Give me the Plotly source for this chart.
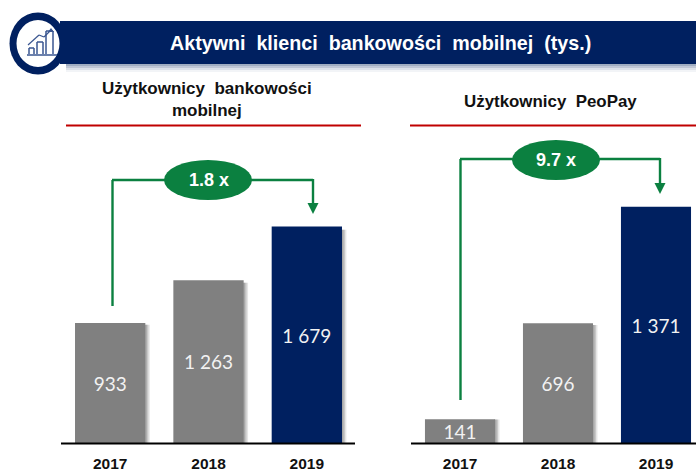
import plotly.graph_objects as go

W, H = 696, 472
years = ["2017", "2018", "2019"]
mobile_values = [933, 1263, 1679]
mobile_labels = ["933", "1 263", "1 679"]
peopay_values = [141, 696, 1371]
peopay_labels = ["141", "696", "1 371"]
bar_colors = ["#808080", "#808080", "#002060"]
title = "Aktywni\u00a0 klienci\u00a0 bankowości\u00a0 mobilnej\u00a0 (tys.)"
left_title = "Użytkownicy\u00a0 bankowości<br>mobilnej"
right_title = "Użytkownicy\u00a0 PeoPay"
left_mult = "1.8 x"
right_mult = "9.7 x"

NAVY, GREEN, RED = "#002060", "#0B8040", "#C00000"
TOP, BASE = 120, 443.5


def px(x):
    return x / W


def py(y):
    return 1 - y / H


fig = go.Figure()
for ax, vals, labs in (("", mobile_values, mobile_labels), ("2", peopay_values, peopay_labels)):
    fig.add_trace(go.Bar(
        x=years, y=vals, xaxis="x" + ax, yaxis="y" + ax, width=0.715,
        marker=dict(color=bar_colors, line=dict(width=0)),
        text=labs, textposition="inside", insidetextanchor="middle", textangle=0,
        constraintext="none", cliponaxis=False,
        textfont=dict(family="Lato, sans-serif", size=19, color="#F2F2F2"),
        hoverinfo="skip", showlegend=False))

shapes = []


def rect(x0, y0, x1, y1, color, layer="above", op=1):
    shapes.append(dict(type="rect", xref="paper", yref="paper", x0=px(x0), x1=px(x1), y0=py(y0), y1=py(y1),
                       fillcolor=color, line=dict(width=0), layer=layer, opacity=op))


def line(x0, y0, x1, y1, color, w=2, layer="above"):
    shapes.append(dict(type="line", xref="paper", yref="paper", x0=px(x0), x1=px(x1), y0=py(y0), y1=py(y1),
                       line=dict(color=color, width=w), layer=layer))


def ellipse(cx, cy, rx, ry, color, layer="above"):
    shapes.append(dict(type="circle", xref="paper", yref="paper", x0=px(cx - rx), x1=px(cx + rx),
                       y0=py(cy + ry), y1=py(cy - ry), fillcolor=color, line=dict(width=0), layer=layer))


def arrow(cx, cy, half, h, color):
    x0, y0 = px(cx - half), py(cy)
    x1, y1 = px(cx + half), py(cy)
    x2, y2 = px(cx), py(cy + h)
    shapes.append(dict(type="path", xref="paper", yref="paper", layer="above",
                       path=f"M {x0} {y0} L {x1} {y1} L {x2} {y2} Z", fillcolor=color, line=dict(width=0)))


# bar shadows, anchored to the data
for ax, vals in (("", mobile_values), ("2", peopay_values)):
    for i, v in enumerate(vals):
        if i == 2 and ax == "2":
            continue
        for off, op in ((0.045, 0.16), (0.03, 0.22), (0.015, 0.3)):
            shapes.append(dict(type="rect", xref="x" + ax, yref="y" + ax, x0=i + 0.35, x1=i + 0.3575 + off,
                               y0=0, y1=v * 0.985, fillcolor="#606060", opacity=op, line=dict(width=0), layer="below"))

# banner
for i, op in enumerate((0.30, 0.22, 0.14, 0.08)):
    rect(66, 64, 696, 66 + i * 2, "#5A6F96", "below", op)
rect(60, 21, 696, 64, NAVY)
ellipse(38, 43.5, 28.5, 31, NAVY)
ellipse(38, 43.5, 21.5, 23.5, "#FFFFFF")
# icon
ICON = "#3A5690"
line(27, 55, 57, 55, ICON, 1.5)
for x0, x1, top in ((29, 34, 48), (37, 43, 42), (46, 53, 31)):
    line(x0, 54, x0, top, ICON, 1.5)
    line(x1, 54, x1, top, ICON, 1.5)
    line(x0, top, x1, top, ICON, 1.5)
line(28, 45, 39, 35, ICON, 1.2)
line(39, 35, 44, 37, ICON, 1.2)
line(44, 37, 51, 30, ICON, 1.2)
arrow(51, 32, 3, -4, ICON)

# section rules
line(66, 125.5, 361, 125.5, RED, 2.2)
line(410, 125.5, 696, 125.5, RED, 2.2)

# base lines
line(61, 443.5, 355, 443.5, "#000000", 2)
line(411, 443.5, 696, 443.5, "#000000", 2)

# connectors
line(112.5, 306, 112.5, 180, GREEN, 2.4)
line(112, 180, 313, 180, GREEN, 2.4)
line(313, 179, 313, 205, GREEN, 2.4)
arrow(313, 203, 5.5, 11, GREEN)
ellipse(208, 180, 44, 20, GREEN)
line(460.5, 400, 460.5, 159, GREEN, 2.4)
line(460, 159, 660, 159, GREEN, 2.4)
line(660, 158, 660, 184, GREEN, 2.4)
arrow(660, 183, 5.5, 11, GREEN)
ellipse(556, 160, 44, 20, GREEN)


def text(x, y, s, size, color, family="Liberation Sans, Arial, sans-serif"):
    return dict(xref="paper", yref="paper", x=px(x), y=py(y), text=s, showarrow=False, align="center",
                xanchor="center", yanchor="middle", font=dict(family=family, size=size, color=color))


annotations = [
    text(380.5, 43, f"<b>{title}</b>", 19.7, "#FFFFFF"),
    text(207, 99.5, f"<b>{left_title}</b>", 17, "#111111"),
    text(550.5, 102, f"<b>{right_title}</b>", 16.9, "#111111"),
    text(208.5, 180, f"<b>{left_mult}</b>", 18, "#FFFFFF"),
    text(556, 160, f"<b>{right_mult}</b>", 18, "#FFFFFF"),
]

tick = dict(family="Liberation Sans, Arial, sans-serif", size=15.5, color="#111111")
xcommon = dict(type="category", categoryorder="array", categoryarray=years, showgrid=False, zeroline=False,
               showline=False, ticks="", tickfont=tick, ticklabelstandoff=9, fixedrange=True, automargin=False,
               tickvals=years, ticktext=[f"<b>{y}</b>" for y in years])
ycommon = dict(visible=False, showgrid=False, zeroline=False, fixedrange=True)

lscale = 0.1292
rscale = 0.1727
fig.update_layout(
    width=W, height=H, margin=dict(l=0, r=0, t=0, b=0, autoexpand=False), autosize=False,
    paper_bgcolor="#FFFFFF", plot_bgcolor="rgba(0,0,0,0)", barmode="overlay",
    font=dict(family="Liberation Sans, Arial, sans-serif"),
    xaxis=dict(xcommon, domain=[px(61), px(356)], range=[-0.5, 2.5]),
    yaxis=dict(ycommon, domain=[py(BASE), py(TOP)], range=[0, (BASE - TOP) / lscale]),
    xaxis2=dict(xcommon, domain=[px(411), px(696)], range=[-0.5, (696 - 460) / 98], anchor="y2"),
    yaxis2=dict(ycommon, domain=[py(BASE), py(TOP)], range=[0, (BASE - TOP) / rscale], anchor="x2"),
    shapes=shapes, annotations=annotations,
)
fig.write_html("out.html", config={"displayModeBar": False},
               post_script="document.body.style.margin='0';document.documentElement.style.overflow='hidden';")
